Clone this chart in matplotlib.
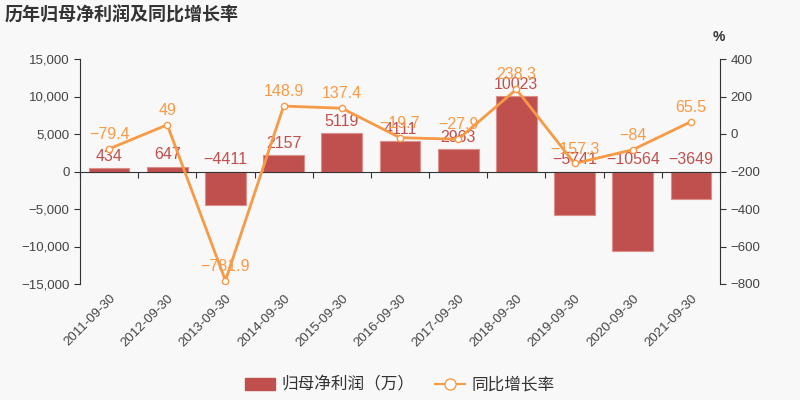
import matplotlib.pyplot as plt
import numpy as np
from matplotlib.ticker import FuncFormatter
from matplotlib.lines import Line2D

# Arial-like digits, CJK glyphs from Noto
plt.rcParams['font.family'] = ['Liberation Sans', 'Noto Sans CJK SC', 'DejaVu Sans']

# data
dates = ['2011-09-30', '2012-09-30', '2013-09-30', '2014-09-30', '2015-09-30', '2016-09-30',
         '2017-09-30', '2018-09-30', '2019-09-30', '2020-09-30', '2021-09-30']
profit = [434, 647, -4411, 2157, 5119, 4111, 2963, 10023, -5741, -10564, -3649]
growth = [-79.4, 49, -781.9, 148.9, 137.4, -19.7, -27.9, 238.3, -157.3, -84, 65.5]

bar_color = '#c0504d'
line_color = '#f79a46'
text_color = '#333333'
tick_color = '#444444'
bg = '#f8f8f8'
cjk = ['Noto Sans CJK SC', 'DejaVu Sans']


def fmt(v):
    return f'{v:g}'.replace('-', '\u2212')


fig = plt.figure(figsize=(8, 4), dpi=100, facecolor=bg)
rect = [0.1, 0.29, 0.8, 0.5625]
ax = fig.add_axes(rect)
ax.set_facecolor(bg)
# independent overlay axes for the percent line (so its x ticks don't clash)
ax2 = fig.add_axes(rect, label='pct')
ax2.patch.set_visible(False)

x = np.arange(len(dates))
ax.bar(x, profit, width=0.7, color=bar_color, edgecolor='#dc8e8b', linewidth=0.8, zorder=2)
ax.set_ylim(-15000, 15000)
ax.set_yticks([-15000, -10000, -5000, 0, 5000, 10000, 15000])
ax.yaxis.set_major_formatter(FuncFormatter(lambda v, p: f'{int(v):,}'.replace('-', '\u2212')))
ax.set_xlim(-0.5, len(dates) - 0.5)

# category labels at the bottom, no tick marks there
ax.set_xticks(x)
ax.set_xticklabels(dates, rotation=45, ha='right', rotation_mode='anchor')
ax.tick_params(axis='x', length=0, pad=6, labelsize=9.5, labelcolor=tick_color)
ax.tick_params(axis='y', labelsize=9.5, labelcolor=tick_color, color=text_color, length=4)
for side in ['top', 'bottom', 'right']:
    ax.spines[side].set_visible(False)
ax.spines['left'].set_color(text_color)

for xi, v in zip(x, profit):
    ax.annotate(fmt(v), (xi, max(v, 0)), xytext=(0, 3), textcoords='offset points',
                ha='center', va='bottom', color=bar_color, fontsize=11.5, zorder=5)

# growth line on right axis
ax2.plot(x, growth, color=line_color, lw=2, marker='o', ms=4.5,
         markerfacecolor='white', markeredgecolor=line_color, markeredgewidth=1, zorder=4)
ax2.set_ylim(-800, 400)
ax2.set_yticks([-800, -600, -400, -200, 0, 200, 400])
ax2.yaxis.tick_right()
ax2.yaxis.set_major_formatter(FuncFormatter(lambda v, p: f'{int(v)}'.replace('-', '\u2212')))
ax2.tick_params(axis='y', labelsize=9.5, labelcolor=tick_color, color=text_color, length=4)
for side in ['top', 'left']:
    ax2.spines[side].set_visible(False)
ax2.spines['right'].set_color(text_color)

# zero line with boundary ticks (right axis -200 == left axis 0)
ax2.spines['bottom'].set_position(('data', -200))
ax2.spines['bottom'].set_color(text_color)
ax2.set_xlim(-0.5, len(dates) - 0.5)
ax2.set_xticks(np.arange(len(dates) + 1) - 0.5)
ax2.tick_params(axis='x', length=4, color=text_color, labelbottom=False)

for xi, v in zip(x, growth):
    ax2.annotate(fmt(v), (xi, v), xytext=(0, 5), textcoords='offset points',
                 ha='center', va='bottom', color=line_color, fontsize=11.5, zorder=6)

fig.text(0.006, 0.962, '历年归母净利润及同比增长率', fontsize=13, fontweight='bold',
         color=text_color, va='center', family=cjk)
fig.text(0.898, 0.908, '%', fontsize=10, fontweight='bold', color=text_color, ha='center', va='center')

# legend
h1 = plt.Rectangle((0, 0), 1, 1, color=bar_color)
h2 = Line2D([0], [0], color=line_color, lw=1.5, marker='o', ms=8,
            markerfacecolor='white', markeredgecolor=line_color)
fig.legend([h1, h2], ['归母净利润（万）', '同比增长率'], loc='center', bbox_to_anchor=(0.5, 0.037),
           ncol=2, frameon=False, handlelength=1.8, handleheight=0.8,
           columnspacing=1.2, handletextpad=0.4, labelcolor=text_color,
           prop={'family': cjk, 'size': 12})

fig.savefig('out.png', dpi=100, facecolor=bg)
